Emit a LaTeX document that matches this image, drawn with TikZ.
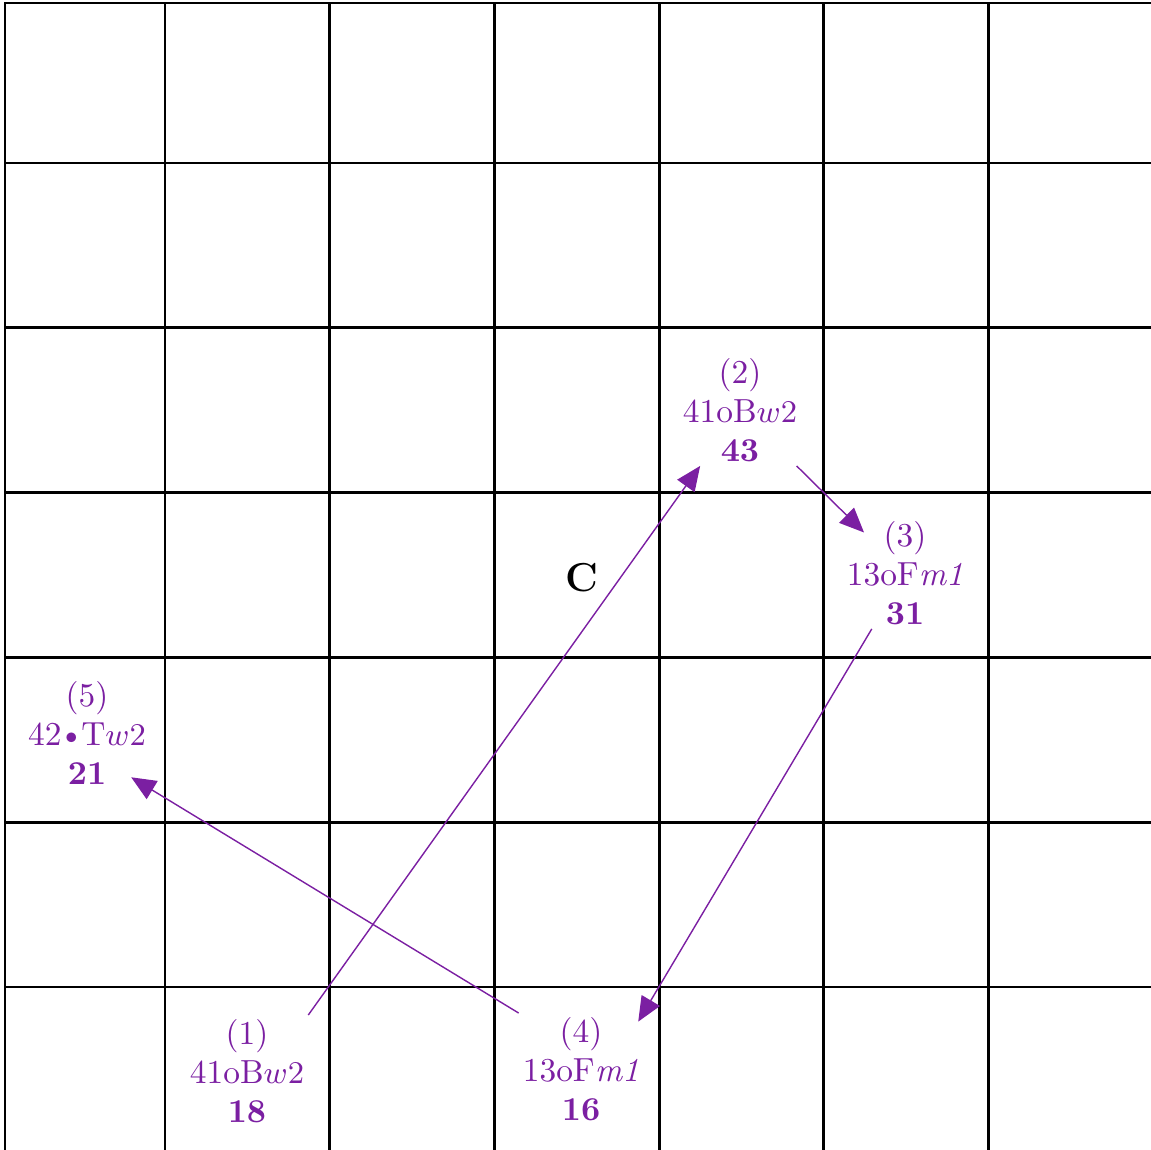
\documentclass[tikz,border=0pt]{standalone}
\usepackage{xcolor}
\usepackage{tikz}
\usetikzlibrary{arrows.meta,positioning}
\definecolor{movepurple}{RGB}{123,31,162}

\begin{document}
\begin{tikzpicture}[
    square/.style={line width=0.8pt, line cap=rect},
    move/.style={text=movepurple, align=center, inner sep=1pt, font=\fontsize{9.5}{11.1}\selectfont},
    jump/.style={-{Triangle[length=7pt,width=6pt]}, draw=movepurple, line width=0.4pt}]
  \useasboundingbox (0,0) rectangle (11.51,11.50);
  \clip (0,0) rectangle (11.51,11.50);
  % board
  \draw[square] (0.05,-0.2) -- (0.05,11.47) -- (11.7,11.47);
  \foreach \k in {0,...,5} {
    \draw[square] (1.65+\k*1.647,-0.2) -- (1.65+\k*1.647,11.47);
    \draw[square] (0.05,9.87-\k*1.648) -- (11.7,9.87-\k*1.648);
  }
  % moves
  \node[move] (n1) at (2.47,0.79) {(1)\\41oB$w2$\\\textbf{18}};
  \node[move] (n2) at (7.40,7.40) {(2)\\41oB$w2$\\\textbf{43}};
  \node[move] (n3) at (9.05,5.77) {(3)\\13oF\textit{m1}\\\textbf{31}};
  \node[move] (n4) at (5.81,0.81) {(4)\\13oF\textit{m1}\\\textbf{16}};
  \node[move] (n5) at (0.87,4.17) {(5)\\42\kern-0.9pt\textbullet\kern-0.9pt T$w2$\\\textbf{21}};
  \node[font=\bfseries\fontsize{11.5}{12}\selectfont] (c) at (5.82,5.72) {C};

  \draw[jump] (n1.north east) -- (n2);
  \draw[jump, shorten >=-2.2mm] (n2) -- (n3);
  \draw[jump, shorten >=-1mm] (n3) -- (n4.north east);
  \draw[jump, shorten >=-2.2mm] (n4.north west) -- (n5.south east);
\end{tikzpicture}
\end{document}
